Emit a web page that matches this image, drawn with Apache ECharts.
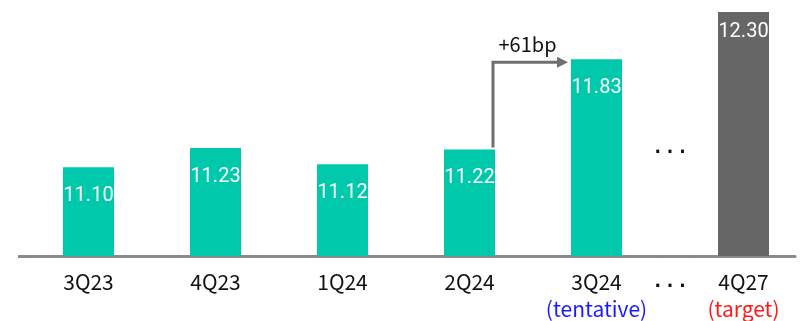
<!DOCTYPE html>
<html>
<head>
<meta charset="utf-8">
<script src="https://cdn.jsdelivr.net/npm/echarts@6/dist/echarts.min.js"></script>
<style>
  html, body { margin: 0; padding: 0; background: #fff; }
  #chart { width: 800px; height: 321px; }
</style>
</head>
<body>
<div id="chart"></div>
<script>
// Quarterly ratio history and the long-range target
const quarters = ['3Q23', '4Q23', '1Q24', '2Q24', '3Q24'];
const ratios = [11.10, 11.23, 11.12, 11.22, 11.83];
const targetQuarters = ['4Q27'];
const targetRatios = [12.30];
const notes = { '3Q24': '(tentative)', '4Q27': '(target)' };
const stepLabel = '+61bp';

const TEAL = '#00C8AA';
const GREY_BAR = '#666666';
const AXIS_GREY = '#8a8a8a';
const ARROW_GREY = '#6f6f6f';
const NUM_FONT = 'Roboto, sans-serif';
const CAT_FONT = '"Noto Sans CJK KR", "Noto Sans", sans-serif';

const chart = echarts.init(document.getElementById('chart'));

function catLabel(v) {
  return notes[v] ? v + '\n{' + (v === '4Q27' ? 'tgt' : 'tent') + '|' + notes[v] + '}' : v;
}
const catText = {
  show: true,
  interval: 0,
  margin: 13,
  color: '#111',
  fontFamily: CAT_FONT,
  fontSize: 21,
  lineHeight: 27,
  verticalAlign: 'top',
  formatter: catLabel,
  rich: {
    tent: { color: '#1a1aff', fontFamily: CAT_FONT, fontSize: 21, lineHeight: 27 },
    tgt: { color: '#ff1a1a', fontFamily: CAT_FONT, fontSize: 21, lineHeight: 27 }
  }
};
const barLabel = (dist) => ({
  show: true,
  position: 'insideTop',
  distance: dist,
  color: '#fff',
  fontFamily: NUM_FONT,
  fontWeight: 'normal',
  fontSize: 20,
  formatter: (p) => p.value.toFixed(2)
});
const axisLine = { show: true, lineStyle: { color: AXIS_GREY, width: 3 } };

chart.setOption({
  animation: false,
  grid: [
    { left: 25, width: 635, top: 34, bottom: 65, outerBoundsMode: 'none', containLabel: false },
    { left: 692, width: 103, top: 12, bottom: 65, outerBoundsMode: 'none', containLabel: false }
  ],
  xAxis: [
    { type: 'category', gridIndex: 0, data: quarters, axisLine, axisTick: { show: false }, axisLabel: catText },
    { type: 'category', gridIndex: 1, data: targetQuarters, axisLine, axisTick: { show: false }, axisLabel: catText }
  ],
  yAxis: [
    { type: 'value', gridIndex: 0, min: 10.5, max: 12.0, show: false },
    { type: 'value', gridIndex: 1, min: 10.5, max: 12.3, show: false }
  ],
  series: [
    {
      type: 'bar', xAxisIndex: 0, yAxisIndex: 0, data: ratios,
      barWidth: 51, itemStyle: { color: TEAL }, label: barLabel(19)
    },
    {
      type: 'bar', xAxisIndex: 1, yAxisIndex: 1, data: targetRatios,
      barWidth: 51, itemStyle: { color: GREY_BAR }, label: barLabel(10)
    }
  ]
});

// Step arrow from 2Q24 to 3Q24, positioned through the axis scales
const i2 = quarters.indexOf('2Q24');
const i3 = quarters.indexOf('3Q24');
const pFrom = chart.convertToPixel({ gridIndex: 0 }, [i2, ratios[i2]]);
const pTo = chart.convertToPixel({ gridIndex: 0 }, [i3, ratios[i3]]);
const half = 25.5;
const ax = pFrom[0] + half - 2;
const ay = pTo[1] + 3;
const tipX = pTo[0] - half - 3;

// Baseline stretch across the gap between the two panels
const base = chart.convertToPixel({ gridIndex: 0 }, [0, 10.5])[1] + 0.5;
const gapMid = (chart.convertToPixel({ gridIndex: 0 }, [i3, 0])[0] +
                chart.convertToPixel({ gridIndex: 1 }, [0, 0])[0]) / 2;
const dots = { text: '· · ·', fill: '#111', font: 'bold 17px "DejaVu Sans", sans-serif', textAlign: 'center', textVerticalAlign: 'middle' };

chart.setOption({
  graphic: [
    { type: 'line', shape: { x1: 18, y1: base, x2: 26, y2: base }, style: { stroke: AXIS_GREY, lineWidth: 3 } },
    { type: 'line', shape: { x1: 659, y1: base, x2: 693, y2: base }, style: { stroke: AXIS_GREY, lineWidth: 3 } },
    {
      type: 'polyline',
      shape: { points: [[ax, pFrom[1] - 2], [ax, ay], [tipX - 10, ay]] },
      style: { stroke: ARROW_GREY, lineWidth: 3, fill: null }
    },
    {
      type: 'polygon',
      shape: { points: [[tipX - 11, ay - 5.5], [tipX, ay], [tipX - 11, ay + 5.5]] },
      style: { fill: ARROW_GREY }
    },
    {
      type: 'text', x: (ax + tipX) / 2 - 3, y: ay - 18,
      style: { text: stepLabel, fill: '#111', font: '20px ' + CAT_FONT, textAlign: 'center', textVerticalAlign: 'middle' }
    },
    { type: 'text', x: gapMid, y: 154, style: dots },
    { type: 'text', x: gapMid, y: 288, style: dots }
  ]
});
</script>
</body>
</html>
